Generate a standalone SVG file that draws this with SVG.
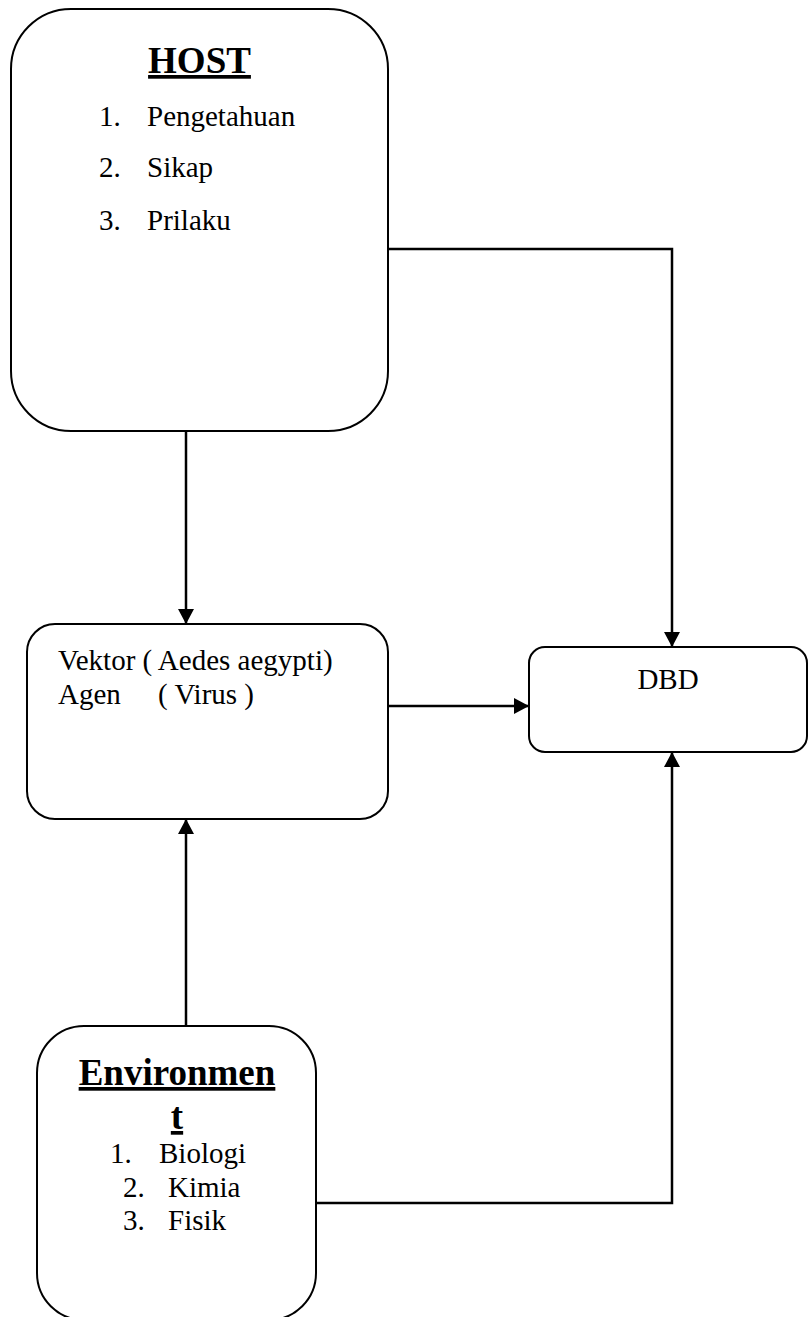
<svg xmlns="http://www.w3.org/2000/svg" width="808" height="1317" viewBox="0 0 808 1317">
  <style>
    .box { fill: #ffffff; stroke: #000000; stroke-width: 2; }
    .wire { fill: none; stroke: #000000; stroke-width: 2.5; }
    .txt { font-family: "Liberation Serif", "Times New Roman", serif; font-size: 29px; fill: #000000; }
    .title { font-family: "Liberation Serif", "Times New Roman", serif; font-size: 37px; font-weight: bold; fill: #000000; text-decoration: underline; }
  </style>
  <defs>
    <marker id="arrow" markerUnits="userSpaceOnUse" markerWidth="16" markerHeight="16" viewBox="0 0 16 16" refX="15" refY="8" orient="auto">
      <path d="M0,0 L15,8 L0,16 Z" fill="#000000"/>
    </marker>
  </defs>
  <rect width="808" height="1317" fill="#ffffff"/>

  <!-- connectors -->
  <g id="connectors">
    <path class="wire" d="M186,431 L186,624" marker-end="url(#arrow)"/>
    <path class="wire" d="M388,249 L672,249 L672,647" marker-end="url(#arrow)"/>
    <path class="wire" d="M388,706 L529,706" marker-end="url(#arrow)"/>
    <path class="wire" d="M186,1026 L186,819" marker-end="url(#arrow)"/>
    <path class="wire" d="M316,1203 L672,1203 L672,752" marker-end="url(#arrow)"/>
  </g>

  <!-- host -->
  <g id="host">
    <rect class="box" x="11" y="9" width="377" height="422" rx="60" ry="60"/>
    <text class="title" x="199.5" y="73" text-anchor="middle">HOST</text>
    <text class="txt" x="99" y="126">1.</text>
    <text class="txt" x="147" y="126">Pengetahuan</text>
    <text class="txt" x="99" y="177">2.</text>
    <text class="txt" x="147" y="177">Sikap</text>
    <text class="txt" x="99" y="230">3.</text>
    <text class="txt" x="147" y="230">Prilaku</text>
  </g>

  <!-- vector / agent -->
  <g id="vektor">
    <rect class="box" x="27" y="624" width="361" height="195" rx="28" ry="28"/>
    <text class="txt" x="58" y="670">Vektor ( Aedes aegypti)</text>
    <text class="txt" x="58" y="704">Agen</text>
    <text class="txt" x="158" y="704">( Virus )</text>
  </g>

  <!-- disease outcome -->
  <g id="dbd">
    <rect class="box" x="529" y="647" width="278" height="105" rx="16" ry="16"/>
    <text class="txt" x="668" y="689" text-anchor="middle">DBD</text>
  </g>

  <!-- environment -->
  <g id="environment">
    <rect class="box" x="37" y="1026" width="279" height="294" rx="47" ry="47"/>
    <text class="title" x="177" y="1085" text-anchor="middle">Environmen</text>
    <text class="title" x="177" y="1129" text-anchor="middle">t</text>
    <text class="txt" x="110" y="1163">1.</text>
    <text class="txt" x="159" y="1163">Biologi</text>
    <text class="txt" x="123" y="1197">2.</text>
    <text class="txt" x="168" y="1197">Kimia</text>
    <text class="txt" x="123" y="1230">3.</text>
    <text class="txt" x="168" y="1230">Fisik</text>
  </g>
</svg>
